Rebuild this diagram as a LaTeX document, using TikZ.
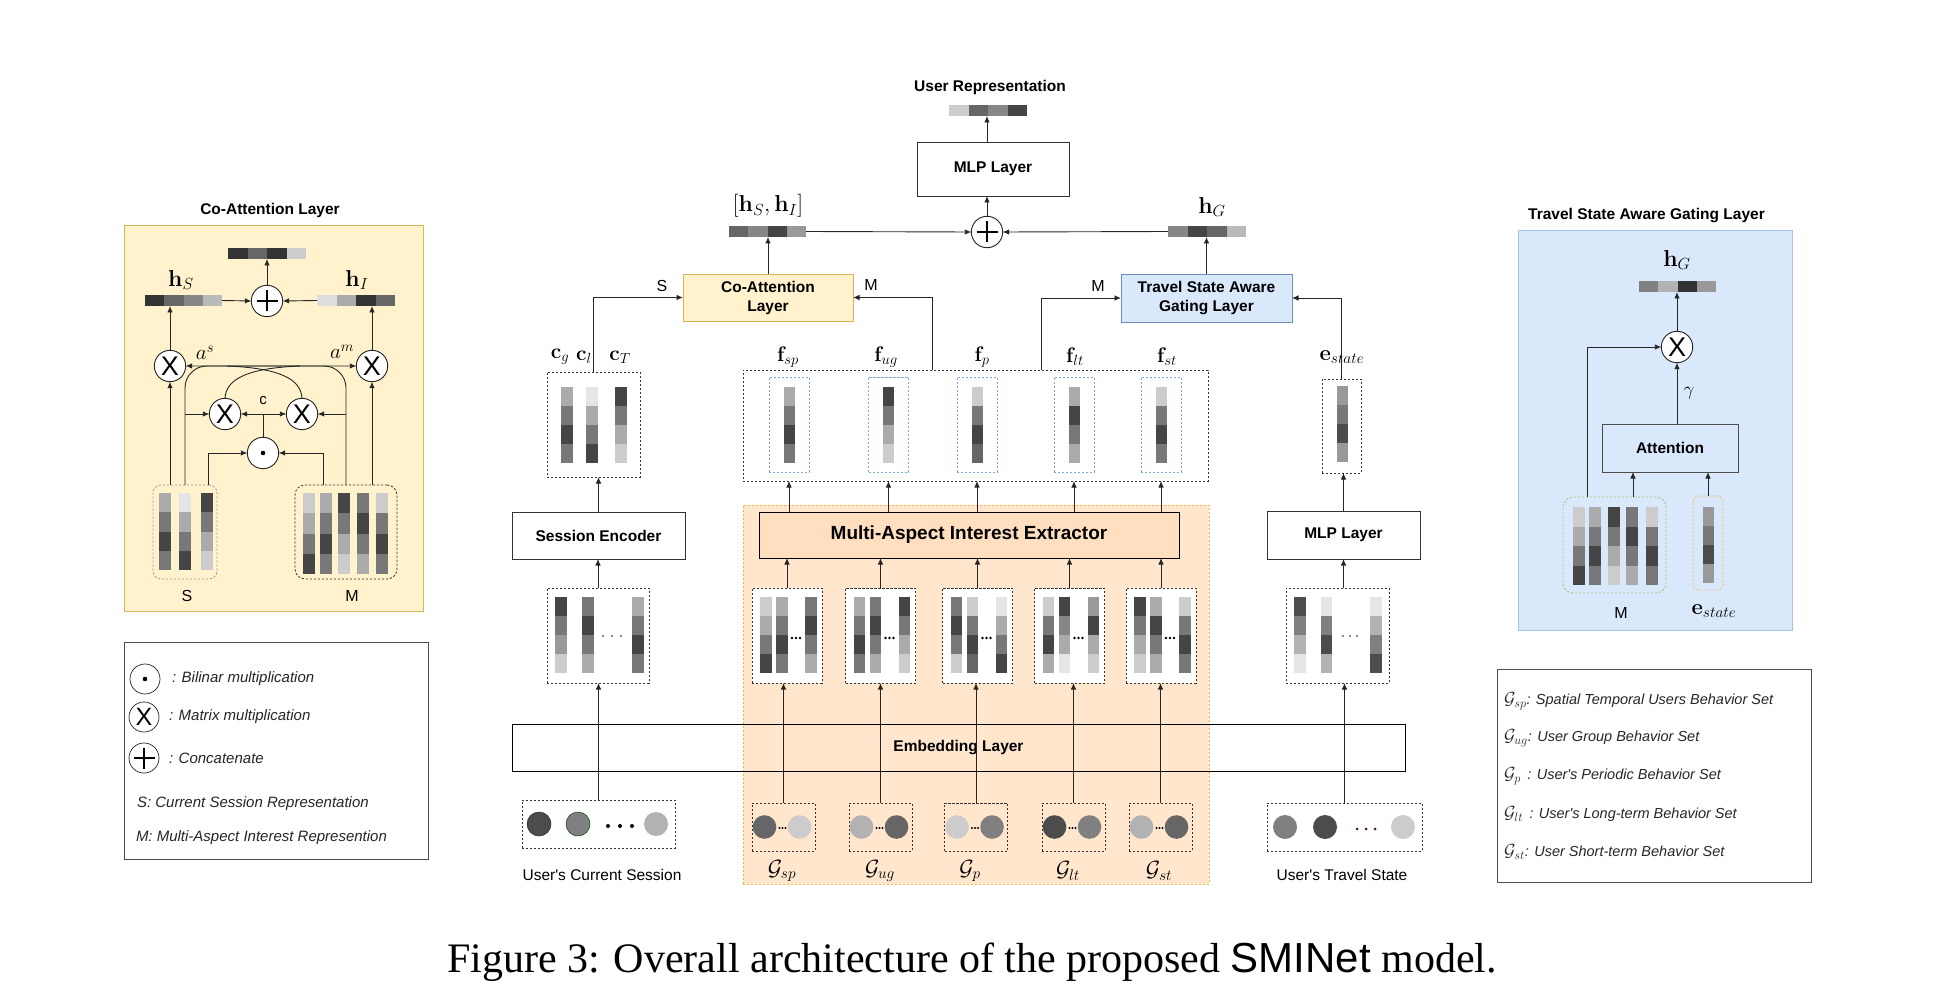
\RequirePackage{fix-cm}
\documentclass[tikz,border=0pt]{standalone}
\usepackage[no-math]{fontspec}
\setmainfont{Liberation Sans}
\setsansfont{Liberation Sans}
\newfontfamily\serifcap{Liberation Serif}
\usetikzlibrary{arrows.meta}

\definecolor{yfill}{HTML}{FFF2CC}
\definecolor{ydraw}{HTML}{D6B656}
\definecolor{bfill}{HTML}{DAE8FC}
\definecolor{bdraw}{HTML}{6C8EBF}
\definecolor{pdraw}{HTML}{A9C4EB}
\definecolor{ofill}{HTML}{FFE6CC}
\definecolor{odraw}{HTML}{F2B73F}
\definecolor{mfill}{HTML}{FFDFC0}
\definecolor{ldash}{HTML}{7EA6E0}
\definecolor{gdash}{HTML}{97D077}
\definecolor{edash}{HTML}{E6C35C}
\definecolor{sdash}{HTML}{8C9CB4}
\definecolor{linec}{HTML}{262626}
\definecolor{maroon}{HTML}{4D1A26}

\newcommand\fs[2]{\fontsize{#1}{#2}\selectfont}
\newcommand\apos{\textquotesingle}
\newcommand\hcells[5]{\foreach \cc [count=\i from 0] in {#5} {\fill[black!\cc] ({#1+\i*#3},#2) rectangle ++(#3,#4);}}
\newcommand\vcells[5]{\foreach \cc [count=\i from 0] in {#5} {\fill[black!\cc] (#1,{#2+\i*#4}) rectangle ++(#3,#4);}}
\newcommand\hbarnode[5]{\hcells{#2}{#3}{#4}{11}{#5}\node[inner sep=0,minimum width={4*#4},minimum height=11,anchor=north west] (#1) at (#2,#3) {};}
\newcommand\inbox[5]{%
  \node[draw=black!80, dsh, fill=white, minimum width=70, minimum height=95] (#1) at (#2,635.5) {};
  \vcells{#2-27}{597}{11.5}{19}{#3}
  \vcells{#2-11}{597}{11.5}{19}{#4}
  \vcells{#2+18}{597}{11.5}{19}{#5}
  \fill[black] (#2+5,638) circle (1.3pt) (#2+9,638) circle (1.3pt) (#2+13,638) circle (1.3pt);
}
\newcommand\gbox[4]{%
  \node[draw=black!80, dsh, minimum width=63, minimum height=48] (#1) at (#2,827) {};
  \fill[black!#3] (#2-19,827) circle (11.8pt);
  \fill[black!#4] (#2+16,827) circle (11.8pt);
  \fill[black] (#2-4,828) circle (1.1pt) (#2-1,828) circle (1.1pt) (#2+2,828) circle (1.1pt);
}
\newcommand\fbar[3]{%
  \node[draw=ldash, dsh, minimum width=40, minimum height=95] (#1) at (#2,424.5) {};
  \vcells{#2-5.5}{387}{11}{19}{#3}
}

\tikzset{
  every node/.style={inner sep=0pt, outer sep=0pt},
  ln/.style={draw=linec, line width=0.9pt},
  arr/.style={ln, -{Latex[length=6.5pt,width=5.5pt]}},
  dsh/.style={dash pattern=on 2.2pt off 1.8pt, line width=0.8pt},
  boxb/.style={draw=black!80, line width=0.9pt, fill=white, font=\bfseries\fs{15.5}{19}, align=center},
  lbl/.style={font=\fs{16}{18}},
  ttl/.style={font=\bfseries\fs{15.5}{19}},
  mth/.style={font=\fs{23}{23}},
  vlab/.style={font=\fs{21}{21}},
  leg/.style={font=\itshape\fs{15}{18}, text=black!85, anchor=west},
  rleg/.style={font=\itshape\fs{14.5}{17}, text=black!85, anchor=west},
  xop/.style={circle, draw=black!85, line width=0.9pt, fill=white, minimum size=31.4pt, font=\fs{27}{27}},
  opl/.style={circle, draw=black!85, line width=0.9pt, fill=white, minimum size=31.4pt,
    path picture={\draw[black, line width=1.3pt] ([xshift=-10.5pt]path picture bounding box.center) -- ([xshift=10.5pt]path picture bounding box.center) ([yshift=-10.5pt]path picture bounding box.center) -- ([yshift=10.5pt]path picture bounding box.center);}},
  dotop/.style={circle, draw=black!85, line width=0.9pt, fill=white, minimum size=31.4pt,
    path picture={\fill[black] (path picture bounding box.center) circle (2.3pt);}},
}

\begin{document}
\begin{tikzpicture}[x=1pt,y=-1pt]
\fill[white] (0,0) rectangle (1944,984);
\useasboundingbox (0,0) rectangle (1944,984);

% ================= Co-Attention panel =================
\node[ttl] (catitle) at (270,210) {Co-Attention Layer};
\node[draw=ydraw, fill=yfill, line width=0.9pt, minimum width=299, minimum height=386] (capanel) at (273.5,418) {};
\hbarnode{catop}{228}{248}{19.5}{80,60,80,20}
\hbarnode{hsbar}{145}{295}{19.25}{80,60,47,27}
\hbarnode{hibar}{317}{295}{19.5}{13,33,80,60}
\node[mth] (hslbl) at (181,280) {$\mathbf{h}_S$};
\node[mth] (hilbl) at (357,280) {$\mathbf{h}_I$};
\node[opl] (caplus) at (267,301) {};
\node[xop] (caxl) at (170,366) {X};
\node[xop] (caxr) at (372,366) {X};
\node[xop] (caxml) at (225,414) {X};
\node[xop] (caxmr) at (302,414) {X};
\node[dotop] (cadot) at (263,453) {};
\node[font=\fs{21}{21}] (aslbl) at (205,353) {$a^s$};
\node[font=\fs{21}{21}] (amlbl) at (342,352) {$a^m$};
\node[font=\fs{15}{15}] (clbl) at (263,401) {c};
\coordinate (cjn) at (263,414);

\node[draw=sdash, dsh, rounded corners=8pt, minimum width=64, minimum height=94] (cas) at (185,532) {};
\vcells{159}{493}{11.5}{19.25}{33,53,73,53}
\vcells{179}{493}{11.5}{19.25}{10,33,53,73}
\vcells{201}{493}{11.5}{19.25}{73,53,33,20}
\node[draw=black!80, dsh, rounded corners=10pt, minimum width=102, minimum height=94] (cam) at (346,532) {};
\vcells{303}{493}{11.5}{20.25}{20,33,53,73}
\vcells{320}{493}{11.5}{20.25}{33,53,73,53}
\vcells{338}{493}{11.5}{20.25}{73,53,33,20}
\vcells{357}{493}{11.5}{20.25}{53,73,53,33}
\vcells{376}{493}{11.5}{20.25}{20,53,73,53}
\node[lbl] (slbl) at (187,596) {S};
\node[lbl] (mlbl) at (352,596) {M};

\draw[arr] (caxl |- cas.north) -- (caxl.south);
\draw[arr] (caxr |- cam.north) -- (caxr.south);
\draw[arr] ([xshift=23pt]cas.north) |- (cadot.west);
\draw[arr] ([xshift=-23pt]cam.north) |- (cadot.east);
\draw[arr] (cas.north) -- (185,388) to[out=90,in=180] (207,366) -- (caxr.west);
\draw[arr] (cam.north) -- (346,388) to[out=90,in=0] (324,366) -- (caxl.east);
\draw[ln] (caxml.north) .. controls (226,378) and (250,368) .. (300,366);
\draw[ln] (caxmr.north) .. controls (301,378) and (277,368) .. (227,366);
\draw[arr] (cas.north |- caxml.west) -- (caxml.west);
\draw[arr] (cam.north |- caxmr.east) -- (caxmr.east);
\draw[ln] (cadot.north) -- (cjn);
\draw[arr] (cjn) -- (caxml.east);
\draw[arr] (cjn) -- (caxmr.west);
\draw[arr] (caxl.north) -- (caxl |- hsbar.south);
\draw[arr] (caxr.north) -- (caxr |- hibar.south);
\draw[arr] (hsbar.east) -- (caplus.west);
\draw[arr] (hibar.west) -- (caplus.east);
\draw[arr] (caplus.north) -- (caplus |- catop.south);

% ================= Left legend =================
\node[draw=black!70, line width=0.8pt, minimum width=304, minimum height=217] (leg1) at (276,750.5) {};
\node[dotop, minimum size=30pt, line width=0.7pt] (ldot) at (145,679) {};
\node[xop, minimum size=30pt, line width=0.7pt, font=\fs{25}{25}] (lx) at (144,717) {X};
\node[opl, minimum size=30pt, line width=0.7pt] (lplus) at (144,758) {};
\node[leg] (lt1) at (172,679) {: Bilinar multiplication};
\node[leg] (lt2) at (169,717) {: Matrix multiplication};
\node[leg] (lt3) at (169,758) {: Concatenate};
\node[leg] (lt4) at (137,804) {S: Current Session Representation};
\node[leg] (lt5) at (136,838) {M: Multi-Aspect Interest Represention};

% ================= Center: top =================
\node[ttl] (urtitle) at (990,87) {User Representation};
\hbarnode{urbar}{949}{105}{19.5}{20,60,47,73}
\node[boxb, minimum width=152, minimum height=54] (mlp1) at (993,169) {MLP Layer};
\node[opl] (cplus) at (987,232) {};
\node[mth] (hsilbl) at (768,206) {$[\mathbf{h}_S,\mathbf{h}_I]$};
\hbarnode{hsibar}{729}{226}{19.25}{60,47,73,40}
\node[mth] (hglbl) at (1212,207) {$\mathbf{h}_G$};
\hbarnode{hgbar}{1168}{226}{19.5}{47,73,60,27}
\node[boxb, draw=ydraw, fill=yfill, minimum width=170, minimum height=47] (coatt) at (768,297.5) {Co-Attention\\Layer};
\node[boxb, draw=bdraw, fill=bfill, minimum width=171, minimum height=48] (tsag) at (1206.5,298) {Travel State Aware\\Gating Layer};
\node[lbl] (sl2) at (662,286) {S};
\node[lbl] (ml2) at (871,285) {M};
\node[lbl] (ml3) at (1098,286) {M};

% c box
\node[draw=black!80, dsh, minimum width=93, minimum height=105] (cbox) at (593.5,424.5) {};
\vcells{561}{387}{11.5}{19}{33,53,73,53}
\vcells{586}{387}{11.5}{19}{10,33,53,73}
\vcells{615}{387}{11.5}{19}{73,53,33,20}
\node[vlab] (cgl) at (560,357) {$\mathbf{c}_g$};
\node[vlab] (cll) at (584,357) {$\mathbf{c}_l$};
\node[vlab] (ctl) at (620,357) {$\mathbf{c}_T$};

% f box
\node[draw=black!80, dsh, minimum width=465, minimum height=111] (fbox) at (975.5,425.5) {};
\fbar{f1}{789}{33,53,73,53}
\fbar{f2}{888.5}{73,53,33,20}
\fbar{f3}{977}{20,53,73,60}
\fbar{f4}{1074}{33,73,53,33}
\fbar{f5}{1161}{20,53,73,53}
\node[vlab] (fl1) at (788,357) {$\mathbf{f}_{sp}$};
\node[vlab] (fl2) at (886,357) {$\mathbf{f}_{ug}$};
\node[vlab] (fl3) at (982,357) {$\mathbf{f}_{p}$};
\node[vlab] (fl4) at (1075,357) {$\mathbf{f}_{lt}$};
\node[vlab] (fl5) at (1167,357) {$\mathbf{f}_{st}$};

% session branch
\node[boxb, minimum width=173, minimum height=47] (senc) at (598.5,535.5) {Session Encoder};
\node[draw=black!80, dsh, fill=white, minimum width=102, minimum height=95] (sebox) at (598,635.5) {};
\vcells{555}{597}{11.5}{19}{73,53,40,20}
\vcells{582}{597}{11.5}{19}{53,73,53,33}
\vcells{632}{597}{11.5}{19}{33,53,73,53}
\fill[black!60] (603,636) circle (1.1pt) (612,636) circle (1.1pt) (621,636) circle (1.1pt);

% orange region
\node[draw=odraw, fill=ofill, dash pattern=on 2pt off 2pt, line width=0.9pt, minimum width=466, minimum height=379] (oreg) at (976,694.5) {};
\node[draw=black, line width=0.9pt, fill=mfill, font=\bfseries\fs{19}{22}, minimum width=420, minimum height=46] (maie) at (969,535) {Multi-Aspect Interest Extractor};
\inbox{m1}{787}{20,33,53,73}{33,53,73,53}{53,73,53,33}
\inbox{m2}{880.5}{33,53,73,53}{53,73,53,33}{73,53,33,20}
\inbox{m3}{977.5}{53,73,53,20}{20,53,73,60}{10,33,53,73}
\inbox{m4}{1069.5}{20,53,73,33}{73,47,33,10}{40,73,33,20}
\inbox{m5}{1161}{73,53,33,20}{33,73,53,33}{20,53,73,53}
\gbox{g1}{783.5}{60}{20}
\gbox{g2}{880.5}{30}{60}
\gbox{g3}{976}{20}{50}
\gbox{g4}{1073.5}{70}{50}
\gbox{g5}{1160.5}{30}{60}
\node[font=\fs{22}{22}] (gl1) at (782,871) {$\mathcal{G}_{sp}$};
\node[font=\fs{22}{22}] (gl2) at (880,871) {$\mathcal{G}_{ug}$};
\node[font=\fs{22}{22}] (gl3) at (970,871) {$\mathcal{G}_{p}$};
\node[font=\fs{22}{22}] (gl4) at (1068,871) {$\mathcal{G}_{lt}$};
\node[font=\fs{22}{22}] (gl5) at (1159,871) {$\mathcal{G}_{st}$};

% embedding layer
\node[draw=black, line width=0.9pt, font=\bfseries\fs{15.5}{19}, minimum width=893, minimum height=47] (emb) at (958.5,747.5) {Embedding Layer};

% current session input
\node[draw=black!80, dsh, minimum width=153, minimum height=48] (scbox) at (598.5,824) {};
\fill[black!70] (539,824) circle (12pt);
\draw[black!85, line width=0.5pt] (539,824) circle (12pt);
\fill[black!50] (578,824) circle (12pt);
\draw[black!50!green!60!black, line width=0.5pt] (578,824) circle (12pt);
\fill[black!30] (656,824) circle (12pt);
\fill[black] (608,826) circle (2pt) (620,826) circle (2pt) (632,826) circle (2pt);
\node[font=\fs{15.5}{18}] (ucs) at (602,875) {User\apos s Current Session};

% travel state branch
\node[draw=black!80, dsh, minimum width=155, minimum height=48] (tsbox) at (1344.5,827) {};
\fill[black!50] (1285,827) circle (12pt);
\fill[black!70] (1325,827) circle (12pt);
\fill[black!20] (1403,827) circle (12pt);
\fill[maroon] (1357,829) circle (1.5pt) (1366,829) circle (1.5pt) (1375,829) circle (1.5pt);
\node[font=\fs{15.5}{18}] (uts) at (1342,875) {User\apos s Travel State};
\node[draw=black!80, dsh, fill=white, minimum width=103, minimum height=95] (tebox) at (1337.5,635.5) {};
\vcells{1294}{597}{11.5}{19}{70,50,30,10}
\vcells{1320.5}{597}{11.5}{19}{10,50,70,30}
\vcells{1370}{597}{11.5}{19}{10,30,50,70}
\fill[black!60] (1343,636) circle (1.1pt) (1350,636) circle (1.1pt) (1357,636) circle (1.1pt);
\node[boxb, minimum width=153, minimum height=48] (mlp2) at (1343.5,535) {MLP Layer};
\node[draw=black!80, dsh, minimum width=39, minimum height=94] (esbox) at (1341.5,426) {};
\vcells{1337}{386}{11}{19}{40,53,70,40}
\node[font=\fs{22}{22}] (esl) at (1342,357) {$\mathbf{e}_{state}$};

% center connectors
\draw[arr] (cplus.north) -- (cplus |- mlp1.south);
\draw[arr] (cplus |- mlp1.north) -- (cplus |- urbar.south);
\draw[arr] (hsibar.east) -- (cplus.west);
\draw[arr] (hgbar.west) -- (cplus.east);
\draw[arr] (coatt.north) -- (coatt |- hsibar.south);
\draw[arr] (tsag.north) -- (tsag |- hgbar.south);
\draw[arr] (cbox.north) |- (coatt.west);
\coordinate (fm1) at ([xshift=-43.5pt]fbox.north);
\coordinate (fm2) at ([xshift=65.5pt]fbox.north);
\draw[arr] (fm1) |- (coatt.east);
\draw[arr] (fm2) |- (tsag.west);
\draw[arr] (esbox.north) |- (tsag.east);
\draw[arr] (senc.north) -- (senc.north |- cbox.south);
\draw[arr] (sebox.north) -- (sebox.north |- senc.south);
\draw[arr] (scbox.north) -- (scbox.north |- sebox.south);
\foreach \k in {1,...,5} {
  \draw[arr] (f\k |- maie.north) -- (f\k |- fbox.south);
  \draw[arr] (m\k.north) -- (m\k |- maie.south);
  \draw[arr] (g\k.north) -- (g\k |- m\k.south);
}
\draw[arr] (tsbox.north) -- (tsbox.north |- tebox.south);
\draw[arr] (mlp2 |- tebox.north) -- (mlp2.south);
\draw[arr] (mlp2.north) -- (mlp2 |- esbox.south);

% ================= Right panel =================
\node[ttl] (tstitle) at (1646.5,216) {Travel State Aware Gating Layer};
\node[draw=pdraw, fill=bfill, line width=0.9pt, minimum width=274, minimum height=400] (tspanel) at (1655,430) {};
\node[mth] (hg2lbl) at (1677,260) {$\mathbf{h}_G$};
\hbarnode{hg2bar}{1639}{281}{19.25}{50,30,80,40}
\node[xop] (tsx) at (1677,347) {X};
\node[draw=black!70, line width=0.9pt, fill=bfill, font=\bfseries\fs{15.5}{19}, minimum width=136, minimum height=48] (att) at (1670,448) {Attention};
\node[font=\fs{19}{19}] (gam) at (1689,393) {$\gamma$};
\node[draw=gdash, dsh, rounded corners=10pt, minimum width=103, minimum height=96] (tsm) at (1614.5,545) {};
\vcells{1573}{507}{11.5}{19.5}{20,33,53,73}
\vcells{1589}{507}{11.5}{19.5}{33,53,73,53}
\vcells{1608}{507}{11.5}{19.5}{73,53,33,20}
\vcells{1626}{507}{11.5}{19.5}{53,73,53,33}
\vcells{1646}{507}{11.5}{19.5}{20,53,73,53}
\node[draw=edash, dsh, rounded corners=6pt, minimum width=30, minimum height=94] (tse) at (1708,543) {};
\vcells{1703}{507}{10.5}{19}{40,53,70,40}
\node[lbl] (tsml) at (1621,613) {M};
\node[font=\fs{22}{22}] (tsel) at (1714,611) {$\mathbf{e}_{state}$};
\coordinate (tsmA) at ([xshift=18.5pt]tsm.north);
\coordinate (tsmB) at ([xshift=-27.5pt]tsm.north);
\draw[arr] (tsx.north) -- (tsx |- hg2bar.south);
\draw[arr] (tsx |- att.north) -- (tsx.south);
\draw[arr] (tsmA) -- (tsmA |- att.south);
\draw[arr] (tse.north) -- (tse.north |- att.south);
\draw[arr] (tsmB) |- (tsx.west);

% ================= Right legend =================
\node[draw=black!70, line width=0.8pt, minimum width=314, minimum height=213] (leg2) at (1654,775.5) {};
\node[rleg] (r1) at (1504,701) {{\fs{17.5}{17}$\mathcal{G}_{sp}$}: Spatial Temporal Users Behavior Set};
\node[rleg] (r2) at (1504,738) {{\fs{17.5}{17}$\mathcal{G}_{ug}$}: User Group Behavior Set};
\node[rleg] (r3) at (1504,776) {{\fs{17.5}{17}$\mathcal{G}_{p}$}\, : User\apos s Periodic Behavior Set};
\node[rleg] (r4) at (1504,814) {{\fs{17.5}{17}$\mathcal{G}_{lt}$}\, : User\apos s Long-term Behavior Set};
\node[rleg] (r5) at (1504,852) {{\fs{17.5}{17}$\mathcal{G}_{st}$}: User Short-term Behavior Set};

% ================= Caption =================
\node[font=\serifcap\fs{42}{42}] (caption) at (972,962) {Figure 3: Overall architecture of the proposed {\sffamily SMINet} model.};
\end{tikzpicture}
\end{document}
